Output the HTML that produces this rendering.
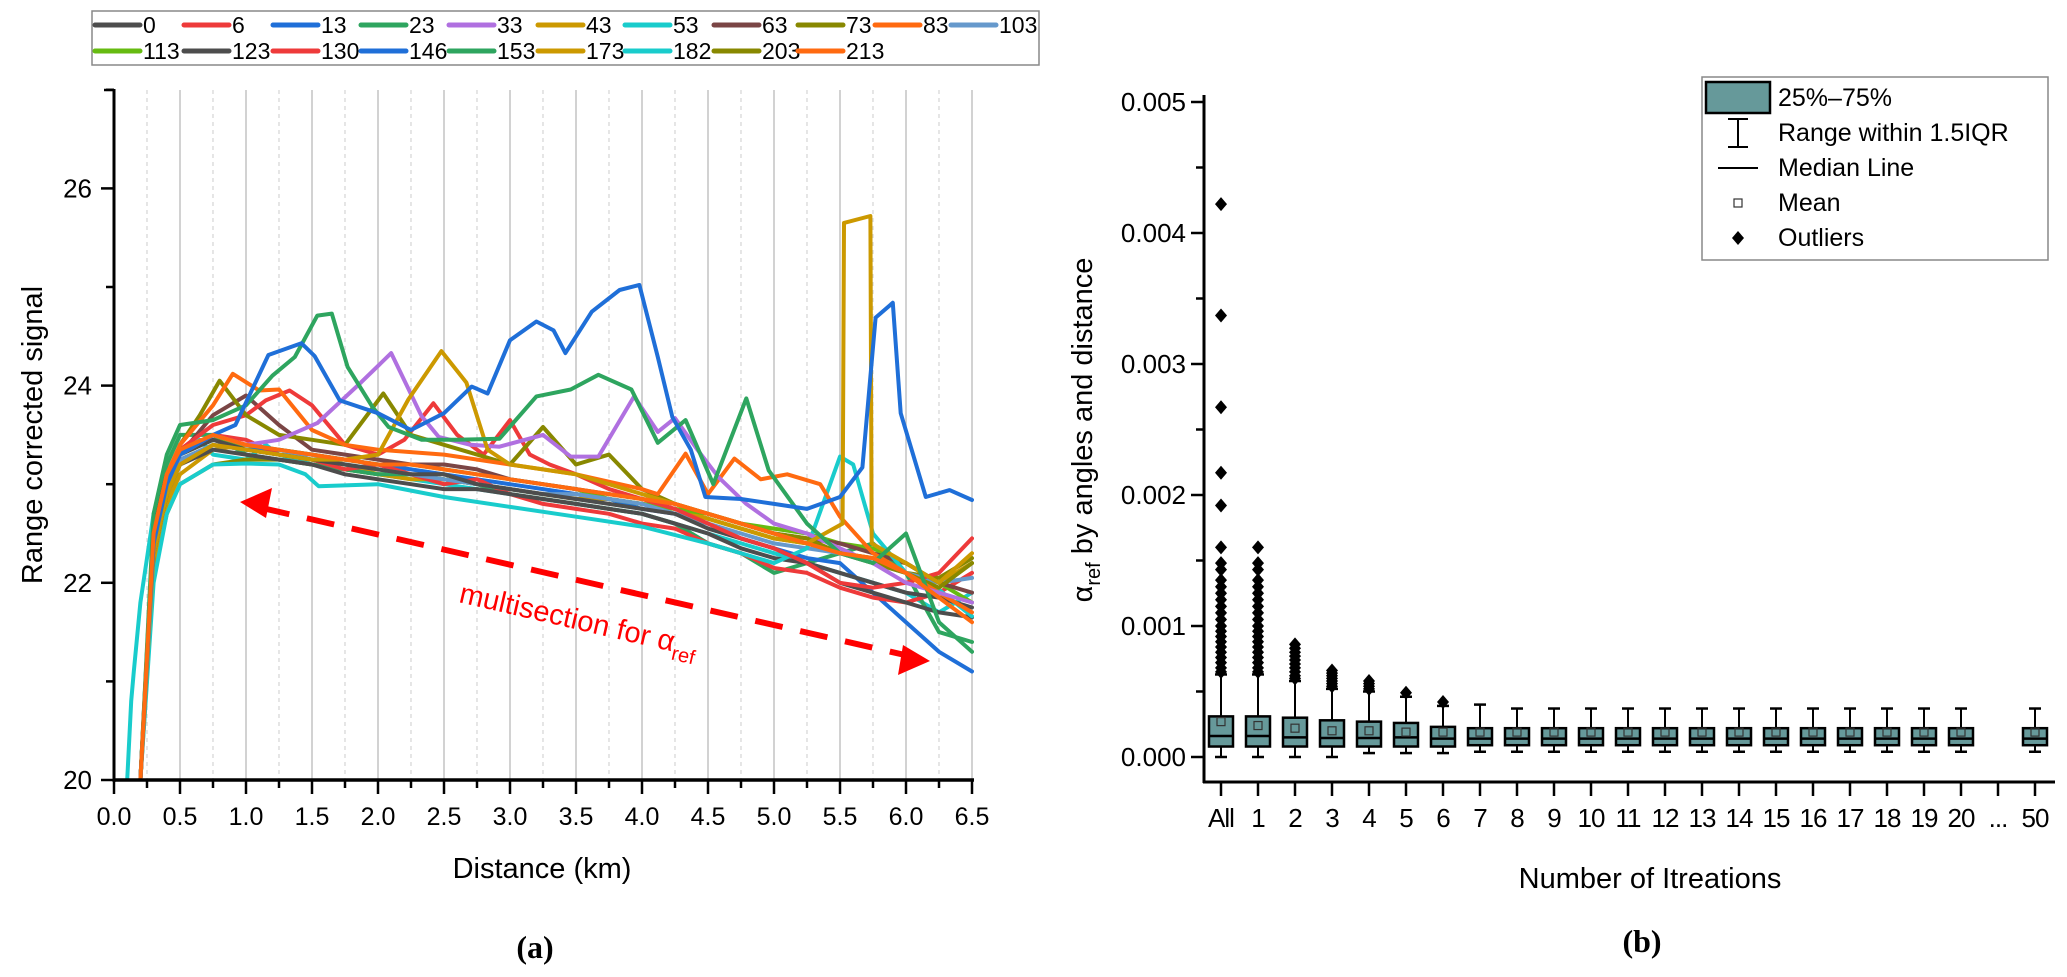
<!DOCTYPE html>
<html><head><meta charset="utf-8"><style>
html,body{margin:0;padding:0;background:#fff;}
svg{display:block;font-family:"Liberation Sans",Arial,sans-serif;}
</style></head><body>
<svg id="chart" width="2067" height="977" viewBox="0 0 2067 977" xmlns="http://www.w3.org/2000/svg">
<defs><clipPath id="clipA"><rect x="114" y="88" width="860" height="693"/></clipPath></defs>
<g id="panelA"></g>
<g id="panelB"></g>
</svg>
<script>
// ---------- Panel (a) data ----------
const seriesNames = ["0","6","13","23","33","43","53","63","73","83","103","113","123","130","146","153","173","182","203","213"];
const seriesColors = ["#4d4d4d","#ee3a3a","#1f6fd8","#2ea55f","#b070e0","#cc9900","#19cccc","#7a4545","#888800","#ff6a10","#6699cc","#66bb11","#4d4d4d","#ee3a3a","#1f6fd8","#2ea55f","#cc9900","#19cccc","#888800","#ff6a10"];
const distGrid = [0.2,0.3,0.4,0.5,0.75,1.0,1.25,1.5,1.75,2.0,2.25,2.5,2.75,3.0,3.25,3.5,3.75,4.0,4.25,4.5,4.75,5.0,5.25,5.5,5.75,6.0,6.25,6.5];
const v0 = [20,22.6,23.1,23.3,23.45,23.35,23.3,23.25,23.2,23.15,23.1,23.1,23.0,22.95,22.9,22.85,22.8,22.75,22.7,22.55,22.45,22.35,22.2,22.1,22.0,21.9,21.85,21.75];
const v63 = [20,22.4,23.0,23.3,23.7,23.9,23.6,23.35,23.3,23.25,23.2,23.2,23.15,23.05,23.0,22.95,22.9,22.85,22.8,22.7,22.6,22.5,22.45,22.4,22.3,22.2,22.0,21.9];
const v103 = [20,22.5,23.0,23.25,23.4,23.35,23.3,23.3,23.2,23.15,23.1,23.05,23.0,22.95,22.9,22.9,22.85,22.8,22.7,22.6,22.5,22.4,22.35,22.3,22.2,22.1,22.0,22.05];
const v113 = [20,22.5,23.05,23.3,23.45,23.4,23.35,23.3,23.25,23.2,23.2,23.15,23.1,23.05,23.0,22.95,22.85,22.8,22.75,22.7,22.6,22.55,22.5,22.4,22.35,22.2,22.0,21.8];
const v123 = [20,22.3,22.9,23.2,23.35,23.3,23.25,23.2,23.1,23.05,23.0,22.95,22.95,22.9,22.85,22.8,22.75,22.7,22.6,22.5,22.35,22.25,22.2,22.0,21.9,21.8,21.7,21.65];
const v130 = [20,22.4,23.0,23.3,23.5,23.45,23.3,23.25,23.15,23.2,23.1,23.0,23.05,22.9,22.8,22.75,22.7,22.6,22.55,22.4,22.3,22.15,22.1,21.95,21.85,21.8,21.9,22.1];
const v146 = [20,22.3,22.9,23.2,23.4,23.35,23.35,23.3,23.25,23.2,23.15,23.1,23.05,23.0,22.95,22.9,22.85,22.75,22.7,22.6,22.45,22.35,22.25,22.2,21.9,21.6,21.3,21.1];
const v153 = [20,22.6,23.2,23.5,23.5,23.3,23.25,23.2,23.15,23.1,23.1,23.05,23.0,22.9,22.85,22.8,22.75,22.7,22.6,22.4,22.3,22.1,22.2,22.3,22.4,22.1,21.5,21.4];
const v173 = [20,22.2,22.8,23.1,23.35,23.4,23.3,23.25,23.2,23.1,23.05,23.05,23.0,22.95,22.9,22.85,22.85,22.8,22.75,22.65,22.55,22.45,22.4,22.3,22.25,22.2,22.0,22.2];
const v203 = [20,22.1,22.7,23.0,23.2,23.25,23.25,23.2,23.15,23.1,23.1,23.05,23.0,22.95,22.9,22.9,22.85,22.8,22.75,22.65,22.55,22.45,22.4,22.3,22.25,22.1,22.05,22.25];
const v213 = [20,22.5,23.1,23.35,23.5,23.4,23.35,23.3,23.25,23.2,23.2,23.15,23.1,23.05,23.0,22.95,22.9,22.85,22.8,22.7,22.6,22.5,22.4,22.3,22.25,22.1,21.85,21.6];
const d6 = [0.2,0.3,0.4,0.5,0.75,1.0,1.15,1.33,1.5,1.75,2.0,2.2,2.42,2.6,2.8,3.0,3.15,3.3,3.5,3.75,4.0,4.25,4.5,4.75,5.0,5.25,5.5,5.75,6.0,6.25,6.5];
const v6 = [20,22.5,23.1,23.35,23.6,23.7,23.85,23.95,23.8,23.4,23.3,23.45,23.82,23.5,23.3,23.65,23.3,23.2,23.1,22.95,22.85,22.75,22.6,22.45,22.35,22.2,22.0,21.95,22.0,22.1,22.45];
const d13 = [0.2,0.3,0.4,0.5,0.75,0.92,1.17,1.42,1.52,1.71,2.0,2.25,2.5,2.71,2.83,3.0,3.2,3.33,3.42,3.62,3.83,3.98,4.12,4.23,4.37,4.48,4.75,5.0,5.25,5.5,5.67,5.77,5.9,5.96,6.15,6.33,6.5];
const v13 = [20,22.4,23.0,23.3,23.5,23.6,24.31,24.43,24.3,23.85,23.72,23.55,23.72,23.99,23.92,24.46,24.65,24.56,24.33,24.75,24.97,25.02,24.29,23.68,23.35,22.87,22.85,22.8,22.75,22.87,23.17,24.69,24.84,23.72,22.87,22.94,22.84];
const d23 = [0.2,0.3,0.4,0.5,0.75,1.0,1.2,1.37,1.54,1.65,1.77,1.96,2.08,2.33,2.6,2.92,3.2,3.46,3.67,3.92,4.12,4.33,4.54,4.79,4.96,5.25,5.5,5.75,6.0,6.25,6.5];
const v23 = [20,22.7,23.3,23.6,23.65,23.8,24.1,24.29,24.71,24.73,24.19,23.78,23.58,23.45,23.45,23.46,23.89,23.96,24.11,23.96,23.42,23.65,23.0,23.87,23.14,22.6,22.3,22.2,22.5,21.6,21.3];
const d33 = [0.2,0.3,0.4,0.5,0.75,1.0,1.25,1.54,1.87,2.1,2.33,2.46,2.7,2.92,3.25,3.46,3.67,3.94,4.12,4.25,4.42,4.58,4.79,5.0,5.25,5.5,5.75,6.0,6.25,6.5];
const v33 = [20,22.4,23.0,23.3,23.5,23.4,23.45,23.62,24.03,24.33,23.69,23.48,23.4,23.38,23.5,23.28,23.28,23.89,23.53,23.67,23.35,23.07,22.8,22.6,22.5,22.35,22.2,22.0,21.9,21.8];
const d43 = [0.2,0.3,0.4,0.5,0.75,1.0,1.25,1.5,1.75,2.0,2.23,2.48,2.67,2.83,3.0,3.25,3.5,3.75,4.0,4.25,4.5,4.75,5.0,5.25,5.52,5.53,5.73,5.74,6.0,6.25,6.5];
const v43 = [20,22.3,22.9,23.2,23.4,23.35,23.3,23.25,23.25,23.3,23.86,24.35,24.03,23.35,23.2,23.15,23.1,23.0,22.9,22.8,22.7,22.6,22.5,22.4,22.6,25.65,25.72,22.4,22.2,22.0,22.3];
const d53 = [0.2,0.3,0.4,0.5,0.75,1.0,1.25,1.45,1.55,2.0,2.5,3.0,3.5,4.0,4.5,5.0,5.25,5.5,5.6,5.75,6.0,6.25,6.5];
const v53 = [20,22.0,22.7,23.0,23.2,23.21,23.2,23.1,22.98,23.0,22.87,22.77,22.67,22.57,22.4,22.2,22.35,23.28,23.2,22.5,22.1,21.93,21.66];
const d73 = [0.2,0.3,0.4,0.5,0.65,0.8,1.0,1.25,1.5,1.75,2.04,2.25,2.5,2.75,3.0,3.25,3.5,3.75,4.0,4.25,4.5,4.75,5.0,5.25,5.5,5.75,6.0,6.25,6.5];
const v73 = [20,22.4,23.0,23.4,23.7,24.05,23.7,23.5,23.45,23.4,23.92,23.5,23.4,23.3,23.2,23.58,23.2,23.3,22.95,22.8,22.7,22.6,22.5,22.45,22.3,22.2,22.1,21.95,22.2];
const d83 = [0.2,0.3,0.4,0.5,0.75,0.9,1.1,1.25,1.5,1.75,2.0,2.5,3.0,3.5,4.0,4.12,4.33,4.5,4.7,4.9,5.1,5.35,5.5,5.75,6.0,6.25,6.5];
const v83 = [20,22.5,23.1,23.4,23.8,24.12,23.95,23.96,23.55,23.4,23.35,23.3,23.2,23.1,22.95,22.9,23.31,22.9,23.26,23.05,23.1,23.0,22.67,22.3,22.1,21.9,21.7];
const d182 = [0.1,0.13,0.15,0.2,0.3,0.4,0.5,0.65,0.75,1.0,1.15,1.25,1.5,2.0,2.5,3.0,3.5,4.0,4.5,5.0,5.5,6.0,6.25,6.5];
const v182 = [20,20.8,21.1,21.8,22.7,23.1,23.3,23.45,23.3,23.25,23.4,23.3,23.2,23.1,23.0,22.9,22.8,22.7,22.5,22.3,22.1,21.9,21.7,21.9];
const xTicksA = ["0.0","0.5","1.0","1.5","2.0","2.5","3.0","3.5","4.0","4.5","5.0","5.5","6.0","6.5"];
const yTicksA = [20,22,24,26];

// ---------- Panel (b) data ----------
const iterCats = ["All","1","2","3","4","5","6","7","8","9","10","11","12","13","14","15","16","17","18","19","20","...","50"];
const q1 = [0.00008,0.00008,0.00008,0.00008,0.00008,0.00008,0.00008,0.00009,0.00009,0.00009,0.00009,0.00009,0.00009,0.00009,0.00009,0.00009,0.00009,0.00009,0.00009,0.00009,0.00009,null,0.00009];
const q3 = [0.00031,0.00031,0.00030,0.00028,0.00027,0.00026,0.00023,0.00022,0.00022,0.00022,0.00022,0.00022,0.00022,0.00022,0.00022,0.00022,0.00022,0.00022,0.00022,0.00022,0.00022,null,0.00022];
const medians = [0.00016,0.00016,0.00015,0.000145,0.000145,0.00015,0.00014,0.00014,0.00014,0.00014,0.00014,0.00014,0.00014,0.00014,0.00014,0.00014,0.00014,0.00014,0.00014,0.00014,0.00014,null,0.00014];
const means = [0.00027,0.00024,0.00022,0.0002,0.0002,0.00019,0.00019,0.00019,0.00019,0.00019,0.00019,0.00019,0.00019,0.00019,0.00019,0.00019,0.00019,0.00019,0.00019,0.00019,0.00019,null,0.00019];
const whiskLow = [0,0,0,0,0.00003,0.00003,0.00003,0.00004,0.00004,0.00004,0.00004,0.00004,0.00004,0.00004,0.00004,0.00004,0.00004,0.00004,0.00004,0.00004,0.00004,null,0.00004];
const whiskHigh = [0.00063,0.00063,0.00058,0.00052,0.0005,0.00046,0.00039,0.0004,0.00037,0.00037,0.00037,0.00037,0.00037,0.00037,0.00037,0.00037,0.00037,0.00037,0.00037,0.00037,0.00037,null,0.00037];
const outAll = [0.00422,0.00337,0.00267,0.00217,0.00192,0.0016,0.00148,0.00143,0.00135,0.0013,0.00125,0.0012,0.00115,0.0011,0.00105,0.001,0.00096,0.00092,0.00088,0.00084,0.0008,0.00076,0.00072,0.00068,0.00065];
const out1 = [0.0016,0.00148,0.00143,0.00135,0.0013,0.00125,0.0012,0.00115,0.0011,0.00105,0.001,0.00096,0.00092,0.00088,0.00084,0.0008,0.00076,0.00072,0.00068,0.00065];
const out2 = [0.00086,0.00083,0.0008,0.00077,0.00074,0.00071,0.00068,0.00065,0.00062,0.0006];
const out3 = [0.00066,0.00064,0.00062,0.0006,0.00058,0.00056,0.00054];
const out4 = [0.00058,0.00056,0.00054,0.00052];
const out5 = [0.00049];
const out6 = [0.00042];
const yTicksB = ["0.000","0.001","0.002","0.003","0.004","0.005"];

const NS = "http://www.w3.org/2000/svg";
function mk(parent, tag, attrs, text){
  const e = document.createElementNS(NS, tag);
  for (const k in attrs) e.setAttribute(k, attrs[k]);
  if (text !== undefined) e.textContent = text;
  parent.appendChild(e);
  return e;
}
const xA = km => 114 + km * 132;
const yA = v => 780 - (v - 20) * 98.6;
const xB = i => 1221 + i * 37;
const yB = v => 757 - v * 131000;

// ================= Panel A =================
const A = document.getElementById('panelA');
const gridG = mk(A, 'g', {});


for (let k = 1; k <= 26; k++) {
  const km = k * 0.25;
  const solid = k % 2 === 0;
  const ln = mk(gridG, 'line', {x1: xA(km), x2: xA(km), y1: 90, y2: 780, stroke: solid ? '#c4c4c4' : '#d4d4d4', 'stroke-width': solid ? 1.5 : 1.2, 'stroke-dasharray': solid ? '' : '4 4'});
  
  
}
const linesG = mk(A, 'g', {'clip-path': 'url(#clipA)'});


const seriesData = {
  "0":[distGrid,v0],"6":[d6,v6],"13":[d13,v13],"23":[d23,v23],"33":[d33,v33],"43":[d43,v43],"53":[d53,v53],
  "63":[distGrid,v63],"73":[d73,v73],"83":[d83,v83],"103":[distGrid,v103],"113":[distGrid,v113],"123":[distGrid,v123],
  "130":[distGrid,v130],"146":[distGrid,v146],"153":[distGrid,v153],"173":[distGrid,v173],"182":[d182,v182],"203":[distGrid,v203],"213":[distGrid,v213]
};
const drawOrder = ["182","203","173","153","146","130","123","113","103","63","0","53","6","73","83","33","43","23","13","213"];
drawOrder.forEach(name => {
  const idx = seriesNames.indexOf(name);
  const [ds, vs] = seriesData[name];
  const pts = ds.map((d, i) => xA(d).toFixed(1) + ',' + yA(vs[i]).toFixed(1)).join(' ');
  const pl = mk(linesG, 'polyline', {points: pts, fill: 'none', stroke: seriesColors[idx], 'stroke-width': 4, 'stroke-linejoin': 'round', 'stroke-linecap': 'round'});
  
  
});
const axA = mk(A, 'g', {stroke: '#000'});


mk(axA, 'line', {x1: 114, x2: 114, y1: 89, y2: 782, 'stroke-width': 3});
mk(axA, 'line', {x1: 104, x2: 114, y1: 90, y2: 90, 'stroke-width': 2.5});
mk(axA, 'line', {x1: 113, x2: 974, y1: 780, y2: 780, 'stroke-width': 3.5});
for (let v = 20; v <= 27; v++) {
  mk(axA, 'line', {x1: v % 2 === 0 ? 101 : 106, x2: 114, y1: yA(v), y2: yA(v), 'stroke-width': 2.5});
}
for (let k = 0; k <= 26; k++) {
  mk(axA, 'line', {x1: xA(k * 0.25), x2: xA(k * 0.25), y1: 780, y2: k % 2 === 0 ? 794 : 788, 'stroke-width': 2.5});
}
yTicksA.forEach(v => {
  const t = mk(A, 'text', {x: 92, y: yA(v) + 9, 'text-anchor': 'end', 'font-size': 26}, String(v));
  
  
});
xTicksA.forEach((s, i) => {
  const t = mk(A, 'text', {x: xA(i * 0.5), y: 825, 'text-anchor': 'middle', 'font-size': 25}, s);
  
  
});
let t = mk(A, 'text', {x: 542, y: 878, 'text-anchor': 'middle', 'font-size': 29}, 'Distance (km)');


t = mk(A, 'text', {x: 0, y: 0, 'text-anchor': 'middle', 'font-size': 29, transform: 'translate(42,435) rotate(-90)'}, 'Range corrected signal');


t = mk(A, 'text', {x: 535, y: 958, 'text-anchor': 'middle', 'font-size': 32, 'font-weight': 'bold', 'font-family': '"Liberation Serif",serif'}, '(a)');


const ann = mk(A, 'g', {});


mk(ann, 'line', {x1: 262, y1: 508, x2: 905, y2: 655, stroke: '#ff0000', 'stroke-width': 6, 'stroke-dasharray': '28 18'});
mk(ann, 'polygon', {points: '240,502 272,488 266,518', fill: '#ff0000'});
mk(ann, 'polygon', {points: '930,661 898,675 903,645', fill: '#ff0000'});
t = mk(A, 'text', {x: 0, y: 0, 'font-size': 29, fill: '#ff0000', transform: 'translate(458,602) rotate(13)'});


mk(t, 'tspan', {}, 'multisection for α');
mk(t, 'tspan', {'font-size': 20, dy: 8}, 'ref');
const legA = mk(A, 'g', {});


mk(legA, 'rect', {x: 92, y: 11, width: 947, height: 54, fill: '#fff', stroke: '#888', 'stroke-width': 1.5});
const legX = [92,181,270,358,446,535,622,711,795,872,948];
seriesNames.forEach((name, i) => {
  const row = i < 11 ? 0 : 1;
  const col = i < 11 ? i : i - 11;
  const x = legX[col] + 1, y = row === 0 ? 25 : 51;
  const g = mk(legA, 'g', {});
  
  
  mk(g, 'line', {x1: x + 2, x2: x + 47, y1: y, y2: y, stroke: seriesColors[i], 'stroke-width': 5, 'stroke-linecap': 'round'});
  mk(g, 'text', {x: x + 50, y: y + 8, 'font-size': 23}, name);
});

// ================= Panel B =================
const B = document.getElementById('panelB');
const axB = mk(B, 'g', {stroke: '#000'});


mk(axB, 'line', {x1: 1204, x2: 1204, y1: 95, y2: 783, 'stroke-width': 3});
mk(axB, 'line', {x1: 1203, x2: 2055, y1: 782, y2: 782, 'stroke-width': 3});
for (let k = 0; k <= 10; k++) {
  const v = k * 0.0005;
  mk(axB, 'line', {x1: k % 2 === 0 ? 1191 : 1196, x2: 1204, y1: yB(v), y2: yB(v), 'stroke-width': 2.5});
}
iterCats.forEach((c, i) => {
  mk(axB, 'line', {x1: xB(i), x2: xB(i), y1: 782, y2: 796, 'stroke-width': 2.5});
});
yTicksB.forEach((s, k) => {
  const tt = mk(B, 'text', {x: 1186, y: yB(k * 0.001) + 9, 'text-anchor': 'end', 'font-size': 26}, s);
  
  
});
iterCats.forEach((c, i) => {
  const tt = mk(B, 'text', {x: xB(i), y: 827, 'text-anchor': 'middle', 'font-size': 26, 'letter-spacing': '-1'}, c);
  
  
});
t = mk(B, 'text', {x: 1650, y: 888, 'text-anchor': 'middle', 'font-size': 29}, 'Number of Itreations');


t = mk(B, 'text', {x: 0, y: 0, 'text-anchor': 'middle', 'font-size': 29, transform: 'translate(1092,430) rotate(-90)'});


mk(t, 'tspan', {}, 'α');
mk(t, 'tspan', {'font-size': 20, dy: 8}, 'ref');
mk(t, 'tspan', {dy: -8}, ' by angles and distance');
t = mk(B, 'text', {x: 1642, y: 952, 'text-anchor': 'middle', 'font-size': 32, 'font-weight': 'bold', 'font-family': '"Liberation Serif",serif'}, '(b)');



const outliers = [outAll, out1, out2, out3, out4, out5, out6];
iterCats.forEach((c, i) => {
  if (q1[i] === null) return;
  const g = mk(B, 'g', {});
  
  
  const x = xB(i), w = 24;
  mk(g, 'line', {x1: x, x2: x, y1: yB(whiskHigh[i]), y2: yB(q3[i]), stroke: '#000', 'stroke-width': 2});
  mk(g, 'line', {x1: x, x2: x, y1: yB(q1[i]), y2: yB(whiskLow[i]), stroke: '#000', 'stroke-width': 2});
  mk(g, 'line', {x1: x - 6, x2: x + 6, y1: yB(whiskHigh[i]), y2: yB(whiskHigh[i]), stroke: '#000', 'stroke-width': 2.5});
  mk(g, 'line', {x1: x - 6, x2: x + 6, y1: yB(whiskLow[i]), y2: yB(whiskLow[i]), stroke: '#000', 'stroke-width': 2.5});
  mk(g, 'rect', {x: x - w / 2, y: yB(q3[i]), width: w, height: yB(q1[i]) - yB(q3[i]), fill: '#66999a', stroke: '#000', 'stroke-width': 2.5});
  mk(g, 'line', {x1: x - w / 2, x2: x + w / 2, y1: yB(medians[i]), y2: yB(medians[i]), stroke: '#000', 'stroke-width': 2.5});
  mk(g, 'rect', {x: x - 4, y: yB(means[i]) - 4, width: 8, height: 8, fill: 'none', stroke: '#333', 'stroke-width': 1.2});
  (outliers[i] || []).forEach(v => {
    const y = yB(v);
    const d = mk(g, 'polygon', {points: `${x},${y - 7} ${x + 6},${y} ${x},${y + 7} ${x - 6},${y}`, fill: '#000'});
    
    
  });
});
const legB = mk(B, 'g', {});


mk(legB, 'rect', {x: 1702, y: 77, width: 346, height: 183, fill: '#fff', stroke: '#888', 'stroke-width': 1.5});
mk(legB, 'rect', {x: 1706, y: 82, width: 64, height: 31, fill: '#66999a', stroke: '#000', 'stroke-width': 2.5});
mk(legB, 'line', {x1: 1738, x2: 1738, y1: 119, y2: 147, stroke: '#000', 'stroke-width': 2});
mk(legB, 'line', {x1: 1728, x2: 1748, y1: 119, y2: 119, stroke: '#000', 'stroke-width': 2});
mk(legB, 'line', {x1: 1728, x2: 1748, y1: 147, y2: 147, stroke: '#000', 'stroke-width': 2});
mk(legB, 'line', {x1: 1718, x2: 1758, y1: 168, y2: 168, stroke: '#000', 'stroke-width': 2});
mk(legB, 'rect', {x: 1734, y: 199, width: 8, height: 8, fill: 'none', stroke: '#333', 'stroke-width': 1.2});
mk(legB, 'polygon', {points: '1738,231 1744,238 1738,245 1732,238', fill: '#000'});
const legBLabels = ['25%–75%', 'Range within 1.5IQR', 'Median Line', 'Mean', 'Outliers'];
legBLabels.forEach((s, k) => {
  const tt = mk(legB, 'text', {x: 1778, y: 106 + k * 35, 'font-size': 25}, s);
  
  
});
</script>
</body></html>
